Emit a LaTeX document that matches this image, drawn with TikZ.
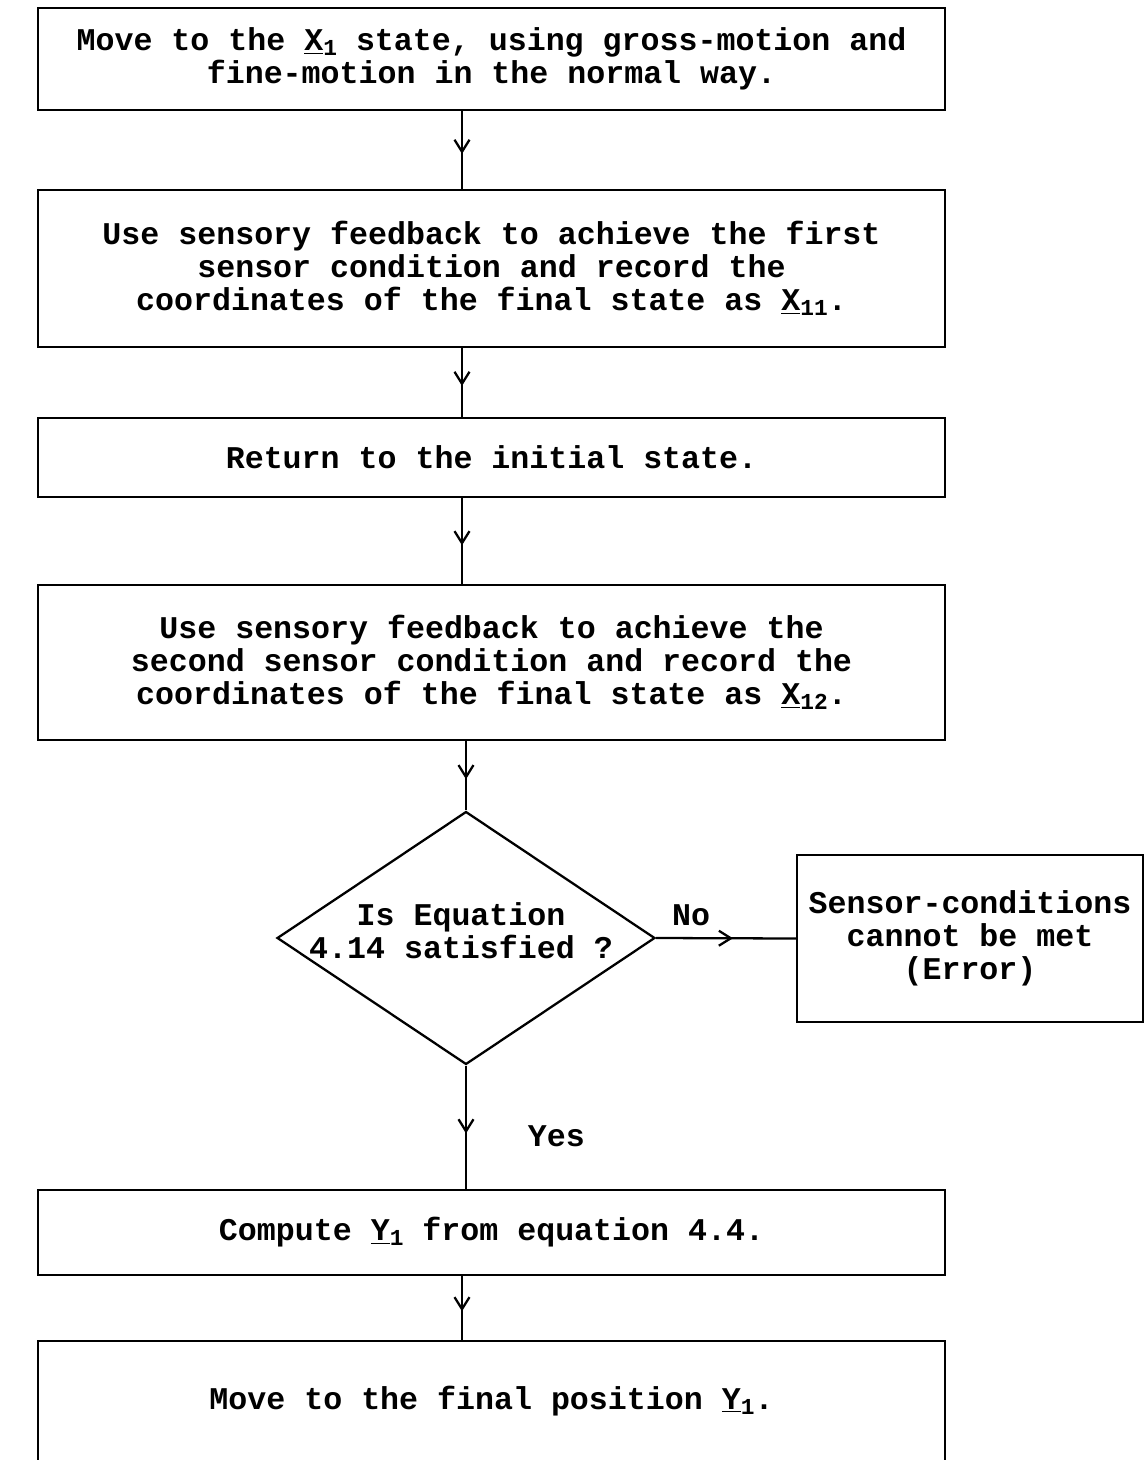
\documentclass[tikz,border=0pt]{standalone}
\usepackage{fontspec}
\newfontfamily\typewriter{Liberation Mono}
\usetikzlibrary{shapes.geometric,arrows.meta,decorations.markings}
\newcommand{\lowsub}[1]{\raisebox{-2.8pt}{\fontsize{13}{13}\selectfont #1}}

\begin{document}
\begin{tikzpicture}[x=0.02cm, y=-0.02cm,
    font=\typewriter\bfseries\fontsize{18}{18.8}\selectfont,
    box/.style={draw, line width=1.3pt, minimum width=18.14cm, align=center, inner sep=0pt},
    decision/.style={draw, diamond, line width=1.3pt, minimum width=7.56cm, minimum height=5.06cm, inner sep=0pt},
    flow/.style={line width=1.3pt, postaction={decorate},
        decoration={markings, mark=at position 0.55 with {\arrow{Straight Barb[length=2.4mm,width=3mm,line width=1.3pt]}}}}]
    \useasboundingbox (0,0) rectangle (1145,1460);

    % Main column
    \coordinate (axis) at (462,0);
    \node[box, minimum height=2.04cm] (move) at (491.5,59) {Move to the \underline{X}\lowsub{1} state, using gross-motion and\\fine-motion in the normal way.};
    \node[box, minimum height=3.14cm] (first) at (491.5,268.5) {Use sensory feedback to achieve the first\\sensor condition and record the\\coordinates of the final state as \underline{X}\lowsub{11}.};
    \node[box, minimum height=1.58cm] (return) at (491.5,457.5) {Return to the initial state.};
    \node[box, minimum height=3.1cm] (second) at (491.5,662.5) {Use sensory feedback to achieve the\\second sensor condition and record the\\coordinates of the final state as \underline{X}\lowsub{12}.};

    % Test
    \node[decision] (test) at (466,938) {};
    \node[align=center] (testtext) at (461,931) {Is Equation\\4.14 satisfied ?};
    \node[box, minimum width=6.92cm, minimum height=3.34cm] (error) at (970,938.5) {Sensor-conditions\\cannot be met\\(Error)};

    % Last steps
    \node[box, minimum height=1.7cm] (compute) at (491.5,1232.5) {Compute \underline{Y}\lowsub{1} from equation 4.4.};
    \node[box, anchor=north, inner ysep=1cm, text height=0.36cm, text depth=1.3cm] (final) at (491.5,1340) {Move to the final position \underline{Y}\lowsub{1}.};

    % Connectors
    \draw[flow] (move.south -| axis) -- (first.north -| axis);
    \draw[flow] (first.south -| axis) -- (return.north -| axis);
    \draw[flow] (return.south -| axis) -- (second.north -| axis);
    \draw[flow] (second.south -| test.north) -- (test.north);
    \draw[flow] (test.east) -- (error.west) node[pos=0.25, above=3pt] (no) {No};
    \draw[flow] (test.south) -- (compute.north -| test.south) node[pos=0.57, right=1.1cm] (yes) {Yes};
    \draw[flow] (compute.south -| axis) -- (final.north -| axis);

\end{tikzpicture}
\end{document}
